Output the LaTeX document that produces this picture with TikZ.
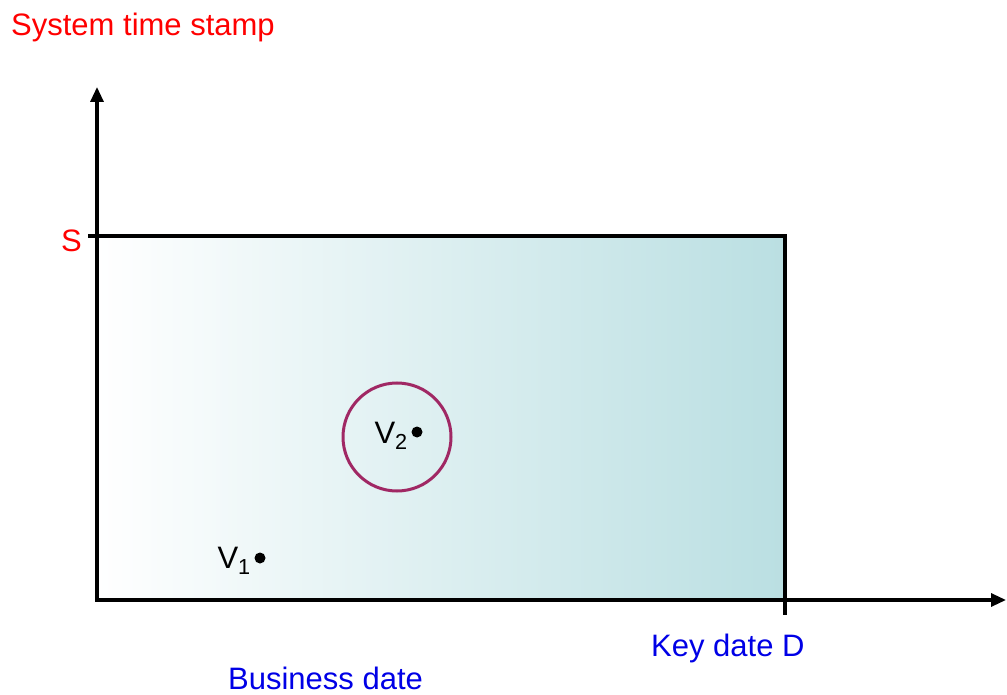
\documentclass[tikz,border=0pt]{standalone}
\usepackage{fontspec}
\setmainfont{Liberation Sans}
\usetikzlibrary{arrows.meta}
\definecolor{tealfill}{RGB}{186,223,226}
\definecolor{ringcol}{RGB}{160,40,100}
\definecolor{redlab}{RGB}{255,0,0}
\definecolor{bluelab}{RGB}{0,0,230}
\tikzset{
  axis/.style={line width=3.2pt,-{Triangle[width=13pt,length=15pt]}},
  edge/.style={line width=3.2pt},
  lab/.style={inner sep=0pt,font=\fontsize{31}{37}\selectfont},
  pt/.style={circle,fill=black,inner sep=0pt,minimum size=11pt},
}
\begin{document}
\begin{tikzpicture}[x=1pt,y=-1pt]
\useasboundingbox (0,0) rectangle (1007,695);
\coordinate (O) at (97,600);
\coordinate (ytop) at (97,87);
\coordinate (xend) at (1006,600);
\coordinate (Sl) at (88,236);
\coordinate (TR) at (785,236);
\coordinate (BR) at (785,615);
\fill[left color=white,right color=tealfill] (97,236) rectangle (785,600);
\draw[edge] (Sl) -- (TR) -- (BR);
\draw[axis] (O) -- (ytop);
\draw[axis] ([xshift=-1.6pt]O) -- (xend);
\node[draw=ringcol,line width=3pt,circle,minimum size=108pt] (ring) at (397,437) {};
\node[pt] (v2) at (417,432) {};
\node[pt] (v1) at (260,558) {};
\node[lab,anchor=base east] (v2l) at (408,443) {V\textsubscript{2}};
\node[lab,anchor=base east] (v1l) at (251,568) {V\textsubscript{1}};
\node[lab,text=redlab,anchor=base west] (sts) at (11,36) {System time stamp};
\node[lab,text=redlab,anchor=base west] (S) at (61,252) {S};
\node[lab,text=bluelab,anchor=base west] (kd) at (651,656) {Key date D};
\node[lab,text=bluelab,anchor=base west] (bd) at (228,689) {Business date};
\end{tikzpicture}
\end{document}
